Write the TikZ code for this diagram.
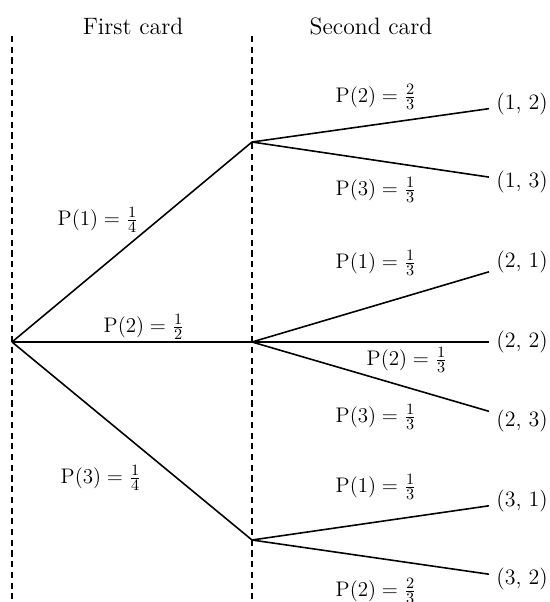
\documentclass[tikz,border=0pt]{standalone}
\usepackage{amsmath}
\usepackage{tikz}

\begin{document}
\begin{tikzpicture}[x=0.02cm,y=-0.02cm]
    % Styles for labels and lines
    \tikzset{
      head/.style={font=\fontsize{13.5}{16}\selectfont, inner sep=0pt},
      prob/.style={font=\fontsize{12.5}{15}\selectfont, inner sep=1pt},
      leaf/.style={font=\fontsize{12.5}{15}\selectfont, anchor=west, inner xsep=4pt, inner ysep=1pt},
      branch/.style={line width=0.9pt},
      guide/.style={line width=0.6pt, dash pattern=on 3.5pt off 2.6pt}
    }
    \useasboundingbox (0,0) rectangle (550,602);

    % Column headings and dashed guides
    \node[head] (first) at (133,26) {First card};
    \node[head] (second) at (371,26) {Second card};
    \coordinate (top1) at (12,36);
    \coordinate (bot1) at (12,602);
    \coordinate (top2) at (252,36);
    \coordinate (bot2) at (252,602);
    \draw[guide] (top1) -- (bot1);
    \draw[guide] (top2) -- (bot2);

    % Branch points
    \coordinate (root) at (12,342);
    \coordinate (A) at (252,142);
    \coordinate (B) at (252,342);
    \coordinate (C) at (252,540);

    % Outcomes
    \node[leaf] (l12) at (489,104) {(1, 2)};
    \node[leaf] (l13) at (489,182) {(1, 3)};
    \node[leaf] (l21) at (489,262) {(2, 1)};
    \node[leaf] (l22) at (489,342) {(2, 2)};
    \node[leaf] (l23) at (489,421) {(2, 3)};
    \node[leaf] (l31) at (489,501) {(3, 1)};
    \node[leaf] (l32) at (489,579) {(3, 2)};

    % Branches
    \draw[branch] (root) -- (A);
    \draw[branch] (root) -- (B);
    \draw[branch] (root) -- (C);
    \draw[branch] (A) -- (l12);
    \draw[branch] (A) -- (l13);
    \draw[branch] (B) -- (l21);
    \draw[branch] (B) -- (l22);
    \draw[branch] (B) -- (l23);
    \draw[branch] (C) -- (l31);
    \draw[branch] (C) -- (l32);

    % Probabilities
    \node[prob] (p1) at (98,220) {$\mathrm{P}(1) = \frac{1}{4}$};
    \node[prob] (p2) at (144,327) {$\mathrm{P}(2) = \frac{1}{2}$};
    \node[prob] (p3) at (101,478) {$\mathrm{P}(3) = \frac{1}{4}$};
    \node[prob] (p12) at (376,97) {$\mathrm{P}(2) = \frac{2}{3}$};
    \node[prob] (p13) at (376,190) {$\mathrm{P}(3) = \frac{1}{3}$};
    \node[prob] (p21) at (376,263) {$\mathrm{P}(1) = \frac{1}{3}$};
    \node[prob] (p22) at (407,360) {$\mathrm{P}(2) = \frac{1}{3}$};
    \node[prob] (p23) at (376,417) {$\mathrm{P}(3) = \frac{1}{3}$};
    \node[prob] (p31) at (376,487) {$\mathrm{P}(1) = \frac{1}{3}$};
    \node[prob] (p32) at (376,591) {$\mathrm{P}(2) = \frac{2}{3}$};

\end{tikzpicture}
\end{document}
